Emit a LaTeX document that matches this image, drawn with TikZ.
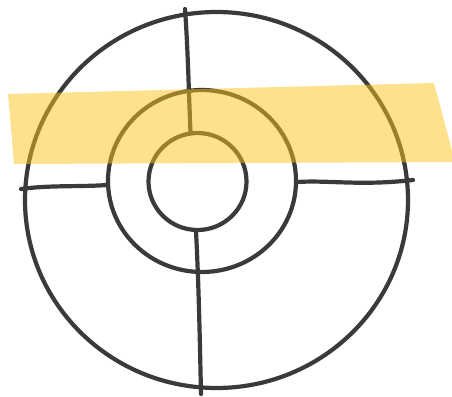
\documentclass[tikz,border=0pt]{standalone}
\begin{document}
\begin{tikzpicture}[x=1pt,y=-1pt,
  ink/.style={draw=ink,line width=4.2pt,line cap=round,line join=round},
  hl/.style={fill=hlyellow,fill opacity=0.5,draw=none}]
\definecolor{ink}{HTML}{3A3A3A}
\definecolor{hlyellow}{HTML}{FCC419}
\useasboundingbox (0,0) rectangle (452,396);
% circles
\draw[ink] (216.5,200) ellipse [x radius=191.5, y radius=188];
\draw[ink] (202,181) ellipse [x radius=94, y radius=91];
\draw[ink] (197.5,181.5) ellipse [x radius=49, y radius=48.5];
% spokes
\coordinate (t1) at (185,9);
\coordinate (t2) at (190.5,132);
\coordinate (b1) at (196,231);
\coordinate (b2) at (201,394);
\coordinate (l1) at (21,189);
\coordinate (l2) at (107,185);
\coordinate (r1) at (297,182);
\coordinate (r2) at (413,180);
\draw[ink] (t1) .. controls (188,50) and (189,100) .. (t2);
\draw[ink] (b1) .. controls (199,290) and (200,350) .. (b2);
\draw[ink] (l1) .. controls (50,185) and (80,187) .. (l2);
\draw[ink] (r1) .. controls (330,180) and (360,186) .. (r2);
% highlight
\fill[hl] (8,94) -- (434,83) -- (455,162) -- (14,164) -- cycle;
\end{tikzpicture}
\end{document}
